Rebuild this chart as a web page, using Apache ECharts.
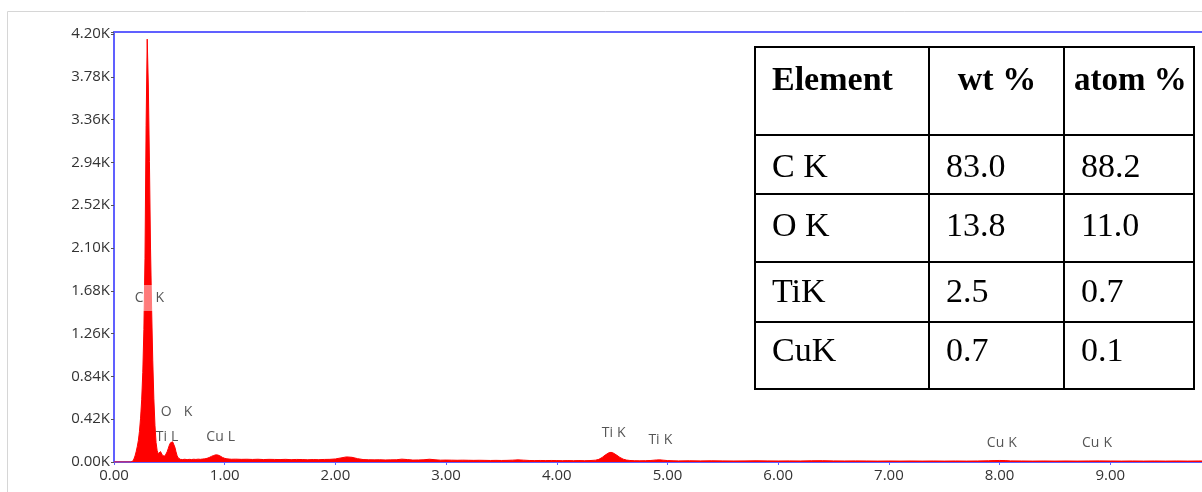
<!DOCTYPE html>
<html>
<head>
<meta charset="utf-8">
<script src="https://cdn.jsdelivr.net/npm/echarts@6/dist/echarts.min.js"></script>
<style>html,body{margin:0;padding:0;background:#fff;}#chart{width:1202px;height:492px;}</style>
</head>
<body>
<div id="chart"></div>
<script>
// ---- Spectrum data: [energy keV, counts] ----
const leadIn = [[0.00,0],[0.10,0],[0.15,0],[0.16,0],[0.17,8],[0.18,30],[0.19,60],[0.20,100],[0.21,150],[0.22,210],[0.23,300],[0.24,430],[0.25,610],[0.26,880],[0.27,1300],[0.28,2000],[0.29,3300]];
const cPeak = [[0.30,4150],[0.31,3700],[0.32,2950],[0.33,2100],[0.34,1500],[0.35,1000],[0.36,620],[0.37,360],[0.38,190],[0.39,110],[0.40,82]];
const tiLoK = [[0.41,96],[0.42,102],[0.43,88],[0.44,62],[0.45,52],[0.46,58],[0.47,74],[0.48,100],[0.49,132],[0.50,165],[0.51,188],[0.52,200],[0.53,198],[0.54,180],[0.55,145],[0.56,100],[0.57,62],[0.58,40],[0.59,30],[0.60,26]];
const cuLRegion = [[0.62,24],[0.64,27],[0.66,23],[0.68,26],[0.70,24],[0.72,27],[0.74,25],[0.76,28],[0.78,26],[0.80,29],[0.82,31],[0.84,36],[0.86,44],[0.88,55],[0.90,64],[0.92,70],[0.94,68],[0.96,58],[0.98,45],[1.00,36],[1.02,31],[1.04,29],[1.06,27]];
const midBackground = [[1.10,28],[1.15,26],[1.20,27],[1.25,25],[1.30,27],[1.35,24],[1.40,26],[1.45,25],[1.50,24],[1.55,26],[1.60,23],[1.65,25],[1.70,24],[1.75,22],[1.80,24],[1.85,23],[1.90,25],[1.95,26],[2.00,30],[2.05,40],[2.10,50],[2.15,46],[2.20,33],[2.25,24],[2.30,22],[2.35,21],[2.40,22],[2.45,20],[2.50,21],[2.55,22],[2.60,28],[2.65,24],[2.70,19],[2.75,20],[2.80,22],[2.85,27],[2.90,22],[2.95,18],[3.00,19],[3.05,18],[3.10,17],[3.15,18],[3.20,17],[3.25,16],[3.30,17],[3.35,16],[3.40,15],[3.45,16],[3.50,15],[3.55,16],[3.60,18],[3.65,21],[3.70,18],[3.75,15],[3.80,14],[3.85,15],[3.90,14],[3.95,15],[4.00,14],[4.05,13],[4.10,14],[4.15,13],[4.20,14],[4.25,13],[4.30,14]];
const tiKRegion = [[4.35,18],[4.38,26],[4.41,45],[4.44,70],[4.47,90],[4.49,95],[4.51,88],[4.54,68],[4.57,45],[4.60,28],[4.63,19],[4.66,15],[4.70,13],[4.75,12],[4.80,13],[4.85,15],[4.90,20],[4.93,21],[4.96,18],[5.00,14],[5.05,12],[5.10,11]];
const highBackground = [[5.20,12],[5.30,11],[5.40,12],[5.50,11],[5.60,10],[5.70,11],[5.80,12],[5.90,11],[6.00,10],[6.10,11],[6.20,10],[6.30,12],[6.40,13],[6.50,11],[6.60,10],[6.70,11],[6.80,10],[6.90,9],[7.00,10],[7.10,9],[7.20,10],[7.30,9],[7.40,10],[7.50,9],[7.60,10],[7.70,9],[7.80,10],[7.90,12],[7.95,14],[8.00,15],[8.05,14],[8.10,11],[8.20,10],[8.30,9],[8.40,10],[8.50,9],[8.60,10],[8.70,9],[8.80,10],[8.90,11],[9.00,10],[9.10,9],[9.20,10],[9.30,9],[9.40,10],[9.50,9],[9.60,10],[9.70,9],[9.80,10],[9.90,9],[10.00,9]];

// ---- Peak labels: [energy keV, counts, element, line] ----
const peakLabels = [[0.32,1610,'C','K'],[0.565,490,'O','K'],[0.479,245,'Ti','L'],[0.964,245,'Cu','L'],[4.514,284,'Ti','K'],[4.935,211,'Ti','K'],[8.02,186,'Cu','K'],[8.88,186,'Cu','K']];

// ---- Axis settings ----
const yInterval = 420;
const yMax = 4220;
const xInterval = 1;

// ---- Composition table ----
const tableHeaders = ['Element','wt %','atom %'];
const tableElements = ['C K','O K','TiK','CuK'];
const tableWt = ['83.0','13.8','2.5','0.7'];
const tableAtom = ['88.2','11.0','0.7','0.1'];

const spectrum = [].concat(leadIn, cPeak, tiLoK, cuLRegion, midBackground, tiKRegion, highBackground);

const chart = echarts.init(document.getElementById('chart'), null, {renderer:'canvas'});

// table geometry (pixels)
const tL = 755, tR = 1194, tT = 47, tB = 389;
const colX = [tL, 929, 1064, tR];
const rowY = [tT, 135, 194, 262, 322, tB];
const serif = '"Liberation Serif","Times New Roman",serif';
const tf = 34;
const g = [];
g.push({type:'rect', z:-5, silent:true, shape:{x:7.5,y:11.5,width:1400,height:700}, style:{fill:'none', stroke:'#d6d6d6', lineWidth:1}});
g.push({type:'rect', z:50, shape:{x:tL,y:tT,width:tR-tL,height:tB-tT}, style:{fill:'#fff', stroke:'#000', lineWidth:2}});
[colX[1], colX[2]].forEach(x => g.push({type:'line', z:51, shape:{x1:x,y1:tT,x2:x,y2:tB}, style:{stroke:'#000', lineWidth:2}}));
rowY.slice(1,5).forEach(y => g.push({type:'line', z:51, shape:{x1:tL,y1:y,x2:tR,y2:y}, style:{stroke:'#000', lineWidth:2}}));
g.push({type:'text', z:52, style:{x:772, y:81, text:tableHeaders[0], font:'bold '+tf+'px '+serif, fill:'#000', verticalAlign:'middle', align:'left'}});
g.push({type:'text', z:52, style:{x:997, y:81, text:tableHeaders[1], font:'bold '+tf+'px '+serif, fill:'#000', verticalAlign:'middle', align:'center'}});
g.push({type:'text', z:52, style:{x:1074, y:81, text:tableHeaders[2], font:'bold 33px '+serif, fill:'#000', verticalAlign:'middle', align:'left'}});
const rowCenters = [168, 227, 293, 352];
for (let i = 0; i < tableElements.length; i++) {
  g.push({type:'text', z:52, style:{x:772, y:rowCenters[i], text:tableElements[i], font:tf+'px '+serif, fill:'#000', verticalAlign:'middle', align:'left'}});
  g.push({type:'text', z:52, style:{x:946, y:rowCenters[i], text:tableWt[i], font:tf+'px '+serif, fill:'#000', verticalAlign:'middle', align:'left'}});
  g.push({type:'text', z:52, style:{x:1081, y:rowCenters[i], text:tableAtom[i], font:tf+'px '+serif, fill:'#000', verticalAlign:'middle', align:'left'}});
}

const blue = '#6060ff';
const sans = 'Open Sans';
const labelRich = {
  a:{color:'#2a2a2a', fontSize:14, fontFamily:sans},
  s:{width:4, fontSize:14, fontFamily:sans},
  w:{width:12, fontSize:14, fontFamily:sans}
};

chart.setOption({
  animation:false,
  backgroundColor:'#fff',
  grid:{left:114, top:32, right:-19, bottom:30, show:true, borderColor:blue, borderWidth:2, backgroundColor:'transparent', containLabel:false, outerBoundsMode:'none'},
  xAxis:{type:'value', min:0, max:10, interval:xInterval,
    axisLine:{show:true, onZero:false, lineStyle:{color:blue, width:2}},
    axisTick:{show:true, length:3, lineStyle:{color:blue}},
    axisLabel:{color:'#333', fontSize:15, fontFamily:sans, margin:6, formatter:v => v.toFixed(2)},
    splitLine:{show:false}},
  yAxis:{type:'value', min:0, max:yMax, interval:yInterval,
    axisLine:{show:true, lineStyle:{color:blue, width:2}},
    axisTick:{show:true, length:3, lineStyle:{color:'#555'}},
    axisLabel:{color:'#333', fontSize:15, fontFamily:sans, margin:4, formatter:v => (v % yInterval === 0) ? (v/1000).toFixed(2)+'K' : ''},
    splitLine:{show:false}},
  series:[
    {type:'line', data:spectrum, showSymbol:false, symbol:'none', sampling:'none', z:2,
     lineStyle:{color:'#ff0000', width:1}, areaStyle:{color:'#ff0000', opacity:1}, itemStyle:{color:'#ff0000'}, silent:true},
    {type:'scatter', z:5, silent:true, symbolSize:1, itemStyle:{color:'rgba(0,0,0,0)'},
     data:peakLabels.map((p, i) => {
       const wide = p[2].length === 1;
       return {value:[p[0], p[1]], name:p[2] + ' ' + p[3],
         label:{
           formatter:'{a|' + p[2] + '}' + (wide ? '{w| }' : '{s| }') + '{a|' + p[3] + '}',
           backgroundColor: i === 0 ? 'rgba(255,255,255,0.6)' : 'transparent',
           padding: i === 0 ? [6,1] : 0
         }};
     }),
     label:{show:true, position:'inside', rich:labelRich}}
  ],
  graphic:g
});
</script>
</body>
</html>
